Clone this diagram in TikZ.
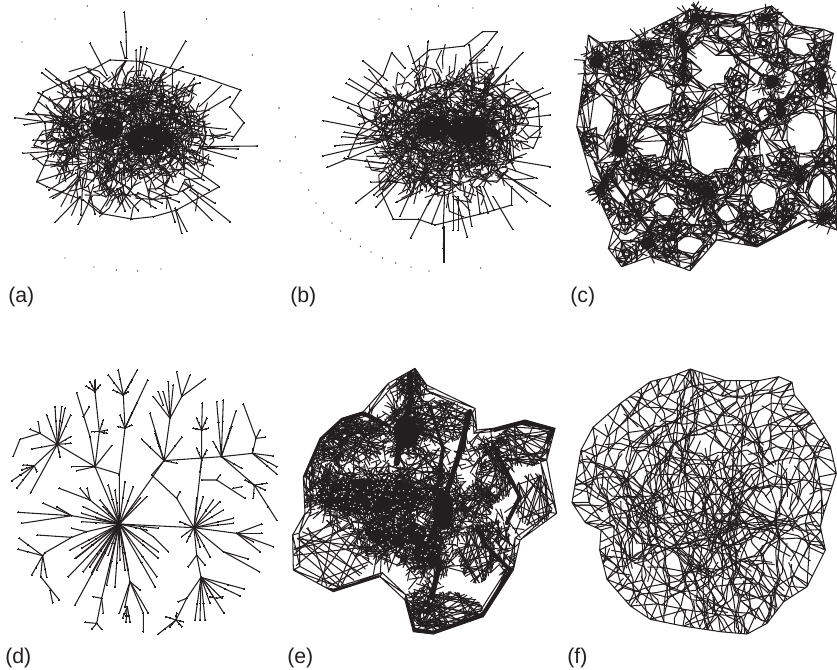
\documentclass[tikz,border=0pt]{standalone}
\usepackage{fontspec}
\setmainfont{Liberation Sans}
\definecolor{ink}{HTML}{231F20}
\tikzset{
  zm/.style 2 args={shift={(#1*0.75pt,-#2*0.75pt)},x=0.25pt,y=-0.25pt},
  net/.style={draw=ink,line width=0.78pt,line join=round},
  lab/.style={anchor=west,inner sep=0pt,font=\fontsize{16}{18}\selectfont,text=ink}
}
\newcommand\tb[1]{\draw[net,line width=.8pt] plot[mark=*,mark size=.42pt,mark options={fill=ink,draw=ink,line width=0pt}] coordinates {#1};}
\newcommand\fan[3]{\foreach \ex/\ey in {#3}{%
  \pgfmathsetmacro\mx{#1+.62*(\ex-#1)}\pgfmathsetmacro\my{#2+.62*(\ey-#2)}%
  \tb{(#1,#2) (\mx,\my) (\ex,\ey)}}}
\newcommand\tangle[6]{\foreach \q in {1,...,#5}{%
  \pgfmathsetmacro\tta{rnd*360}\pgfmathsetmacro\rra{sqrt(rnd)}\pgfmathsetmacro\aaa{rnd*360}%
  \pgfmathsetmacro\bba{\aaa+rnd*160-80}\pgfmathsetmacro\lla{#6*(.5+rnd)}%
  \draw[net] ({#1+#3*\rra*cos(\tta)},{#2+#4*\rra*sin(\tta)}) -- ++(\aaa:\lla) -- ++(\bba:\lla);}}
\newcommand\blob[6]{\foreach \q in {1,...,#5}{%
  \pgfmathsetmacro\tta{rnd*360}\pgfmathsetmacro\rra{sqrt(rnd)}\pgfmathsetmacro\aaa{rnd*360}\pgfmathsetmacro\lla{#6*(.5+rnd)}%
  \draw[net] ({#1+#3*\rra*cos(\tta)},{#2+#4*\rra*sin(\tta)}) -- ++(\aaa:\lla);}}
\newcommand\spikes[5]{\foreach \q in {1,...,#5}{%
  \pgfmathsetmacro\tta{rnd*360}\pgfmathsetmacro\rra{.55+.15*rnd}\pgfmathsetmacro\rrb{.82+.22*rnd}\pgfmathsetmacro\aaa{\tta+rnd*30-15}%
  \pgfmathsetmacro\sax{#1+#3*\rra*cos(\tta)}\pgfmathsetmacro\say{#2+#4*\rra*sin(\tta)}%
  \pgfmathsetmacro\sbx{#1+#3*\rrb*cos(\aaa)}\pgfmathsetmacro\sby{#2+#4*\rrb*sin(\aaa)}%
  \tb{(\sax,\say) (\sbx,\sby)}}}
\newcommand\spk[1]{\foreach \ax/\ay/\bx/\by in {#1}{\tb{(\ax,\ay) (\bx,\by)}}}
\newcommand\specks[1]{\foreach \ax/\ay in {#1}{\fill[ink] (\ax,\ay) circle (2.2);}}
\newcommand\hatch[5]{\foreach \q in {1,...,#5}{%
  \pgfmathsetmacro\tta{rnd*360}\pgfmathsetmacro\aaa{\tta+70+rnd*110}%
  \draw[net] ({#1+#3*cos(\tta)},{#2+#4*sin(\tta)}) -- ({#1+#3*cos(\aaa)},{#2+#4*sin(\aaa)});}}
\newcommand\core[4]{\fill[ink] (#1,#2) circle [x radius=#3,y radius=#4];}
\newcommand\speckw[5]{\foreach \q in {1,...,#5}{%
  \pgfmathsetmacro\tta{rnd*360}\pgfmathsetmacro\rra{sqrt(rnd)}%
  \fill[white] ({#1+#3*\rra*cos(\tta)},{#2+#4*\rra*sin(\tta)}) circle (2);}}
\newcommand\rp[3]{%
  \pgfmathsetmacro\ang{#2*360/\rn+8*sin(#2*131+#3*71+\rcx)}%
  \pgfmathsetmacro\ext{\rw*#3*(1+.35*sin(#2*211+#3*97+\rcy))}%
  \pgfmathsetmacro\jit{1+.08*sin(#2*173+\rcx)}%
  \coordinate (#1) at ({\rcx+(\rrx*\jit+\ext)*cos(\ang)},{\rcy+(\rry*\jit+\ext)*sin(\ang)});}
\newcommand\ring[6]{\def\rcx{#1}\def\rcy{#2}\def\rrx{#3}\def\rry{#4}\def\rn{#5}\def\rw{#6}%
  \foreach \i in {1,...,#5}{\pgfmathtruncatemacro\j{mod(\i,#5)+1}%
    \rp{a0}{\i}{0}\rp{b0}{\j}{0}\rp{a1}{\i}{.3}\rp{b1}{\j}{.3}\rp{a2}{\i}{1}\rp{b2}{\j}{1}\rp{a3}{\i}{1.8}\rp{b3}{\j}{1.8}%
    \draw[net] (a0)--(b0) (a1)--(b1) (a0)--(a1)--(b0) (a1)--(a2)--(b2) (a1)--(b2) (a2)--(a3)--(b3) (a2)--(b3);}}
\newcommand\hullmesh[6]{\foreach \x/\y [remember=\x as \lx (initially #4),remember=\y as \ly (initially #5)] in #6{%
  \pgfmathsetmacro\ix{#1+#3*(\x-#1)}\pgfmathsetmacro\iy{#2+#3*(\y-#2)}%
  \pgfmathsetmacro\jx{#1+#3*(\lx-#1)}\pgfmathsetmacro\jy{#2+#3*(\ly-#2)}%
  \draw[net] (\lx,\ly)--(\x,\y)--(\ix,\iy)--(\jx,\jy)--(\x,\y);}}
\newcommand\walks[6]{\foreach \q in {1,...,#4}{%
  \pgfmathsetmacro\tta{rnd*360}\pgfmathsetmacro\rra{#3*sqrt(rnd)}\pgfmathsetmacro\hh{rnd*360}\pgfmathsetmacro\cc{rnd*30-15}%
  \draw[net] ({#1+\rra*cos(\tta)},{#2+\rra*sin(\tta)}) \foreach \s in {1,...,#5}{ -- ++({\hh+\s*\cc+16*sin(\s*137+\q*59)}:#6) };}}
\begin{document}
\begin{tikzpicture}[x=0.75pt,y=-0.75pt]
\useasboundingbox (0,0) rectangle (837,669);

% ---------- (a)
\begin{scope}[zm={0}{0}]
\pgfmathsetseed{4711}
\tangle{385}{410}{255}{190}{280}{38}
\spikes{385}{410}{320}{255}{24}
\core{320}{385}{50}{35}
\core{450}{420}{70}{45}
\tangle{390}{400}{205}{145}{380}{38}
\blob{390}{395}{175}{110}{140}{50}
\speckw{390}{400}{165}{100}{35}
\tb{(330,180) (440,185) (600,228) (722,270) (690,320) (732,368) (695,420)}
\tb{(658,560) (530,630) (460,650) (395,657) (300,640) (250,600) (140,560) (110,545) (145,470) (135,370) (100,330) (130,275) (265,215) (330,180)}
\spk{373/37/378/95,378/95/380/175,270/130/320/225,557/123/510/205,362/127/375/175,408/150/410/225,423/140/415/225,440/145/420/225,137/207/215/270,125/218/200/275,45/353/170/370,85/340/190/350,68/460/210/450,100/420/200/425,100/478/200/450,772/438/600/440,715/447/600/445,708/475/600/445,640/497/570/470,690/290/590/350,690/665/570/570,635/660/550/575,645/610/550/550,560/693/525/625,545/700/525/625,165/667/240/590,235/673/275/590,112/544/220/510,160/595/240/540,628/570/540/520,658/560/560/490,640/408/560/400,285/643/265/560,525/665/500/590}
\specks{262/18,165/57,66/126,620/57,757/165,837/324,840/483,195/774,282/801,349/810,413/813,483/807}
\end{scope}

% ---------- (b)
\begin{scope}[zm={270}{0}]
\pgfmathsetseed{2024}
\tangle{530}{400}{235}{200}{280}{38}
\spikes{530}{410}{310}{280}{24}
\core{490}{385}{50}{38}
\core{590}{390}{60}{42}
\tangle{535}{395}{195}{160}{380}{38}
\blob{540}{390}{170}{125}{140}{50}
\speckw{535}{410}{170}{125}{40}
\tb{(430,190) (478,150) (583,138) (638,95) (682,95) (650,135) (600,180)}
\tb{(335,580) (370,658) (445,658) (495,675) (640,640) (725,615) (725,560)}
\tb{(265,310) (340,225) (365,158) (405,205)}
\tb{(740,250) (805,310) (810,400) (790,445) (740,420)}
\tb{(265,310) (285,370) (265,400) (235,470)}
\spk{415/138/440/210,278/182/350/240,238/237/340/300,228/250/340/310,190/292/320/340,160/362/330/395,215/410/340/420,195/437/330/425,158/468/320/430,172/502/320/440,222/475/340/490,258/608/365/525,422/714/480/600,522/785/522/680,520/745/522/680,592/712/560/600,550/690/550/590,565/690/565/590,605/678/590/590,728/688/670/590,770/605/680/520,798/578/680/510,840/618/700/520,800/535/700/500,840/500/720/480,772/425/690/420,815/380/700/370,840/345/720/360,818/265/720/310,840/280/730/320,758/158/650/270,715/205/650/280,696/142/650/270,642/150/560/230,672/205/630/290,330/545/400/470,322/590/400/520,630/640/620/560,655/640/630/560,672/630/640/560}
\specks{327/57,424/27,505/18,609/24,27/324,76/411,30/483,93/519,116/570,138/609,161/639,186/669,212/693,241/717,271/739,303/756,338/774,377/789,423/801,477/813,632/804}
\end{scope}

% ---------- (c)
\begin{scope}[zm={550}{0}]
\pgfmathsetseed{99}
\def\hc{150/128,240/120,420/28,560/45,665/18,730/75,820/88,850/100,830/200,860/300,860/690,770/660,620/740,500/720,420/812,300/770,215/800,175/745,190/690,135/570,80/380,105/205,115/105}
\hullmesh{470}{410}{.9}{115}{105}{\hc}
\begin{scope}
\clip (115,105) \foreach \x/\y in \hc { -- (\x,\y) } -- cycle;
\ring{480}{190}{78}{68}{14}{40}
\ring{478}{445}{88}{78}{14}{40}
\ring{145}{330}{48}{78}{11}{38}
\ring{765}{400}{58}{65}{11}{38}
\ring{315}{290}{55}{62}{10}{42}
\ring{540}{95}{40}{28}{9}{30}
\ring{750}{130}{42}{38}{9}{34}
\ring{305}{430}{52}{50}{10}{36}
\ring{535}{640}{34}{26}{8}{26}
\ring{640}{590}{42}{42}{10}{36}
\ring{812}{570}{36}{48}{8}{26}
\ring{345}{620}{38}{30}{9}{34}
\ring{420}{735}{42}{26}{9}{28}
\ring{640}{345}{16}{20}{9}{18}
\ring{430}{590}{18}{18}{9}{18}
\foreach \sx/\sy in {215/225,250/200,310/170,400/330,560/330,450/560,250/530,300/540,600/500,700/480,740/300,600/660,690/660,770/230,640/130,230/660,380/680,470/670,350/760,100/280,110/430,720/620,230/760,540/540,180/520,260/620,170/620,280/500,380/520,560/250,690/180,820/160,830/480,700/520,610/720,330/690,400/210,350/80,200/150}{\ring{\sx}{\sy}{8}{8}{7}{20}}
\end{scope}
\foreach \bx/\by/\brx/\bry in {140/185/42/40,210/440/46/66,290/730/38/38,665/245/40/40,590/420/32/32,690/330/26/62,155/565/24/32,745/530/24/24,825/650/30/28,440/50/38/22,650/55/28/24,815/240/32/58,480/580/26/42,395/120/22/42,290/135/54/24}{%
  \core{\bx}{\by}{.5*\brx}{.5*\bry}
  \blob{\bx}{\by}{\brx}{\bry}{60}{28}}
\draw[ink,line width=2.2pt,line join=round] (395,130) -- (440,50) -- (560,48) (480,610) -- (520,690) -- (620,738) -- (770,660) (180,530) -- (300,690) (250,490) -- (400,560) -- (480,570) (530,150) -- (640,230) (400,260) -- (405,130) (140,570) -- (215,480);
\end{scope}

% ---------- (d)
\begin{scope}[zm={0}{350}]
\fan{358}{522}{375/395,400/410,325/405,345/420,420/445,440/440,250/470,245/490,245/515,290/505,225/625,205/680,250/665,275/668,225/765,345/710,320/705,375/660,360/630,385/660,465/710,470/680,475/625,475/605,475/535,440/540,300/450,310/470}
\tb{(358,522) (270,450) (178,415)} \tb{(270,450) (240,415)} \tb{(270,450) (262,415)}
\tb{(358,522) (215,497) (130,460)} \tb{(215,497) (55,487)} \tb{(215,497) (65,520)} \tb{(215,497) (170,470)}
\tb{(358,522) (260,545) (215,562) (112,555)} \tb{(215,562) (135,608) (128,617)} \tb{(260,545) (215,535)}
\fan{128}{617}{58/565,55/598,95/675,140/682}
\tb{(128,617) (122,680) (178,750)} \tb{(150,720) (158,758)}
\tb{(358,522) (285,350) (172,283)}
\tb{(285,350) (215,350)} \tb{(285,350) (230,362)} \tb{(285,350) (358,372)} \tb{(285,350) (335,287)} \tb{(285,350) (270,260) (230,128)} \tb{(250,200) (268,170)}
\tb{(285,350) (298,245) (285,125)} \fan{285}{125}{258/108,270/95,285/90,300/105}
\fan{298}{245}{320/250,322/240,310/210,275/245}
\fan{172}{283}{95/297,140/195,165/170,185/170,195/175,212/195,212/260,212/280,180/320}
\tb{(172,283) (120,250) (60,268) (40,318)} \tb{(120,250) (90,238)} \tb{(120,250) (115,215)}
\tb{(172,283) (103,347)} \fan{103}{347}{70/345,65/360,36/392,50/415,110/365}
\tb{(172,283) (92,428)}
\tb{(358,522) (358,375) (375,235) (370,135)}
\fan{375}{235}{355/230,360/195,395/225,395/190,410/160}
\tb{(375,235) (443,90)}
\fan{370}{135}{325/75,340/120,355/60,393/95,412/60,385/125}
\tb{(358,522) (492,332)}
\fan{492}{332}{425/268,470/265,545/262,530/340,450/190,465/250}
\tb{(492,332) (510,205) (545,140) (530,65)} \tb{(545,140) (570,75)} \tb{(545,140) (615,88)}
\tb{(510,205) (460,140)} \tb{(490,165) (475,125)} \tb{(510,205) (505,95)} \tb{(510,205) (520,105)} \tb{(510,205) (490,125)}
\tb{(492,332) (455,375) (530,445) (582,533)} \tb{(530,445) (540,425)}
\tb{(358,522) (582,533)}
\tb{(492,332) (664,320) (757,310) (820,318)}
\tb{(757,310) (768,265) (730,162)} \tb{(768,265) (795,262)} \tb{(768,265) (780,240)}
\fan{757}{310}{830/372,830/350,760/295}
\fan{664}{320}{670/150,650/155,708/183,695/230,725/355,640/275}
\tb{(664,320) (763,405)}
\fan{763}{405}{735/390,800/400,795/420,830/510,760/445}
\tb{(582,533) (605,330) (605,240) (607,160)} \fan{605}{240}{580/235,625/235,590/205,620/205}
\fan{605}{330}{590/295,620/300,600/365}
\tb{(605,390) (650,390) (735,445)} \tb{(650,390) (660,375)} \tb{(700,415) (725,410)}
\fan{582}{533}{660/455,640/450,610/440,590/445,670/480,700/505,700/520,540/515,545/560,560/575,630/620,600/590}
\tb{(582,533) (710,550) (785,522)} \tb{(710,550) (785,550)} \tb{(710,550) (820,590)} \tb{(710,550) (780,605)} \tb{(710,550) (760,575)}
\tb{(582,533) (670,605) (745,627)} \tb{(670,605) (778,665)}
\tb{(582,533) (590,615) (603,682)} \tb{(590,615) (565,650)} \tb{(590,615) (615,645)}
\fan{603}{682}{733/717,720/738,640/740,665/745,630/760,600/810,585/810,615/810}
\tb{(603,682) (672,790)} \fan{650}{745}{630/740,668/740}
\tb{(603,682) (560,745) (528,810)} \tb{(560,745) (535,755)}
\fan{528}{810}{475/852,498/800,510/830,530/790,545/830,550/815}
\tb{(358,522) (330,640) (305,745) (280,740)} \tb{(305,745) (310,790)} \tb{(305,745) (290,820) (255,817)} \tb{(290,820) (305,838)} \tb{(290,820) (275,838)}
\tb{(358,522) (390,695) (358,790)} \tb{(390,695) (375,770)} \tb{(390,695) (420,720)}
\tb{(390,695) (430,790) (430,845)} \tb{(390,695) (445,790)}
\fan{382}{770}{378/815,390/815,368/805}
\fan{358}{522}{210/600,228/625,245/595,325/615,290/660,270/650}
\tb{(420,535) (460,560) (505,605)}
\end{scope}

% ---------- (e)
\begin{scope}[zm={280}{350}]
\pgfmathsetseed{31337}
\def\he{440/105,585/175,590/240,640/235,735/210,825/235,800/330,830/490,720/570,700/660,610/800,460/852,400/845,375/750,300/680,160/725,40/660,38/555,75/490,70/380,120/265,185/205,250/185,325/100,405/55}
\hullmesh{430}{440}{.95}{405}{55}{\he}
\begin{scope}
\clip (405,55) \foreach \x/\y in \he { -- (\x,\y) } -- cycle;
\hatch{155}{610}{115}{100}{22}
\hatch{420}{375}{75}{80}{35}
\hatch{735}{285}{85}{65}{32}
\hatch{760}{450}{60}{80}{26}
\hatch{590}{610}{55}{90}{40}
\hatch{500}{785}{110}{60}{45}
\hatch{230}{275}{90}{65}{45}
\hatch{480}{215}{95}{65}{40}
\hatch{640}{390}{55}{70}{35}
\hatch{590}{460}{50}{60}{30}
\blob{400}{420}{290}{240}{340}{44}
\blob{270}{440}{195}{75}{520}{42}
\blob{385}{230}{60}{85}{180}{40}
\blob{390}{105}{48}{48}{130}{34}
\blob{320}{560}{95}{65}{260}{40}
\blob{440}{610}{70}{75}{210}{40}
\blob{500}{470}{60}{105}{200}{40}
\blob{130}{340}{60}{75}{150}{36}
\blob{650}{540}{60}{32}{70}{36}
\blob{680}{640}{28}{55}{50}{34}
\blob{430}{770}{45}{70}{110}{34}
\blob{240}{230}{70}{35}{70}{36}
\blob{640}{300}{55}{45}{90}{36}
\draw[ink,line width=3pt,line join=round] (40,660) -- (90,705) -- (160,722) -- (240,700) -- (300,680);
\draw[ink,line width=4pt,line join=round] (375,750) -- (400,840) -- (460,850) -- (610,795) -- (695,660);
\draw[ink,line width=3pt,line join=round] (70,380) -- (120,268) -- (185,208) -- (250,190) -- (330,230);
\draw[ink,line width=3.5pt,line join=round] (640,240) -- (735,215) -- (820,238) -- (800,280);
\draw[ink,line width=4.5pt,line cap=round] (390,70) -- (392,150) -- (365,250) -- (350,340);
\draw[ink,line width=4pt,line cap=round] (570,185) -- (535,320) -- (480,490) -- (420,650);
\draw[ink,line width=2.5pt,line cap=round] (450,170) -- (490,300) -- (470,420);
\draw[ink,line width=3pt,line cap=round] (640,290) -- (720,440) -- (680,520);
\draw[ink,line width=4pt,line cap=round] (480,640) -- (455,740);
\draw[ink,line width=3pt,line cap=round] (560,190) -- (550,300);
\draw[ink,line width=3pt,line cap=round] (690,660) -- (620,590) -- (590,530);
\core{270}{440}{165}{55}
\core{380}{250}{38}{45}
\core{350}{550}{90}{42}
\core{440}{610}{40}{38}
\core{490}{480}{30}{60}
\speckw{270}{440}{165}{58}{130}
\speckw{350}{550}{90}{42}{55}
\speckw{440}{610}{40}{38}{14}
\end{scope}
\end{scope}

% ---------- (f)
\begin{scope}[zm={557}{350}]
\pgfmathsetseed{777}
\def\hf{505/92,605/92,665/80,705/97,712/135,757/190,820/290,838/370,800/490,790/530,805/600,750/710,680/755,630/820,570/852,490/845,378/828,280/808,220/768,150/688,128/600,132/540,85/518,45/458,72/300,108/232,190/160,280/95,340/80,400/57}
\hullmesh{440}{450}{.87}{400}{57}{\hf}
\begin{scope}
\clip (400,57) \foreach \x/\y in \hf { -- (\x,\y) } -- cycle;
\walks{440}{450}{320}{190}{10}{44}
\walks{440}{450}{350}{90}{3}{36}
\end{scope}
\end{scope}

% ---------- labels
\node[lab] (la) at (8,297) {(a)};
\node[lab] (lb) at (290,297) {(b)};
\node[lab] (lc) at (570,297) {(c)};
\node[lab] (ld) at (5,658) {(d)};
\node[lab] (le) at (287,658) {(e)};
\node[lab] (lf) at (567,658) {(f)};
\end{tikzpicture}
\end{document}
